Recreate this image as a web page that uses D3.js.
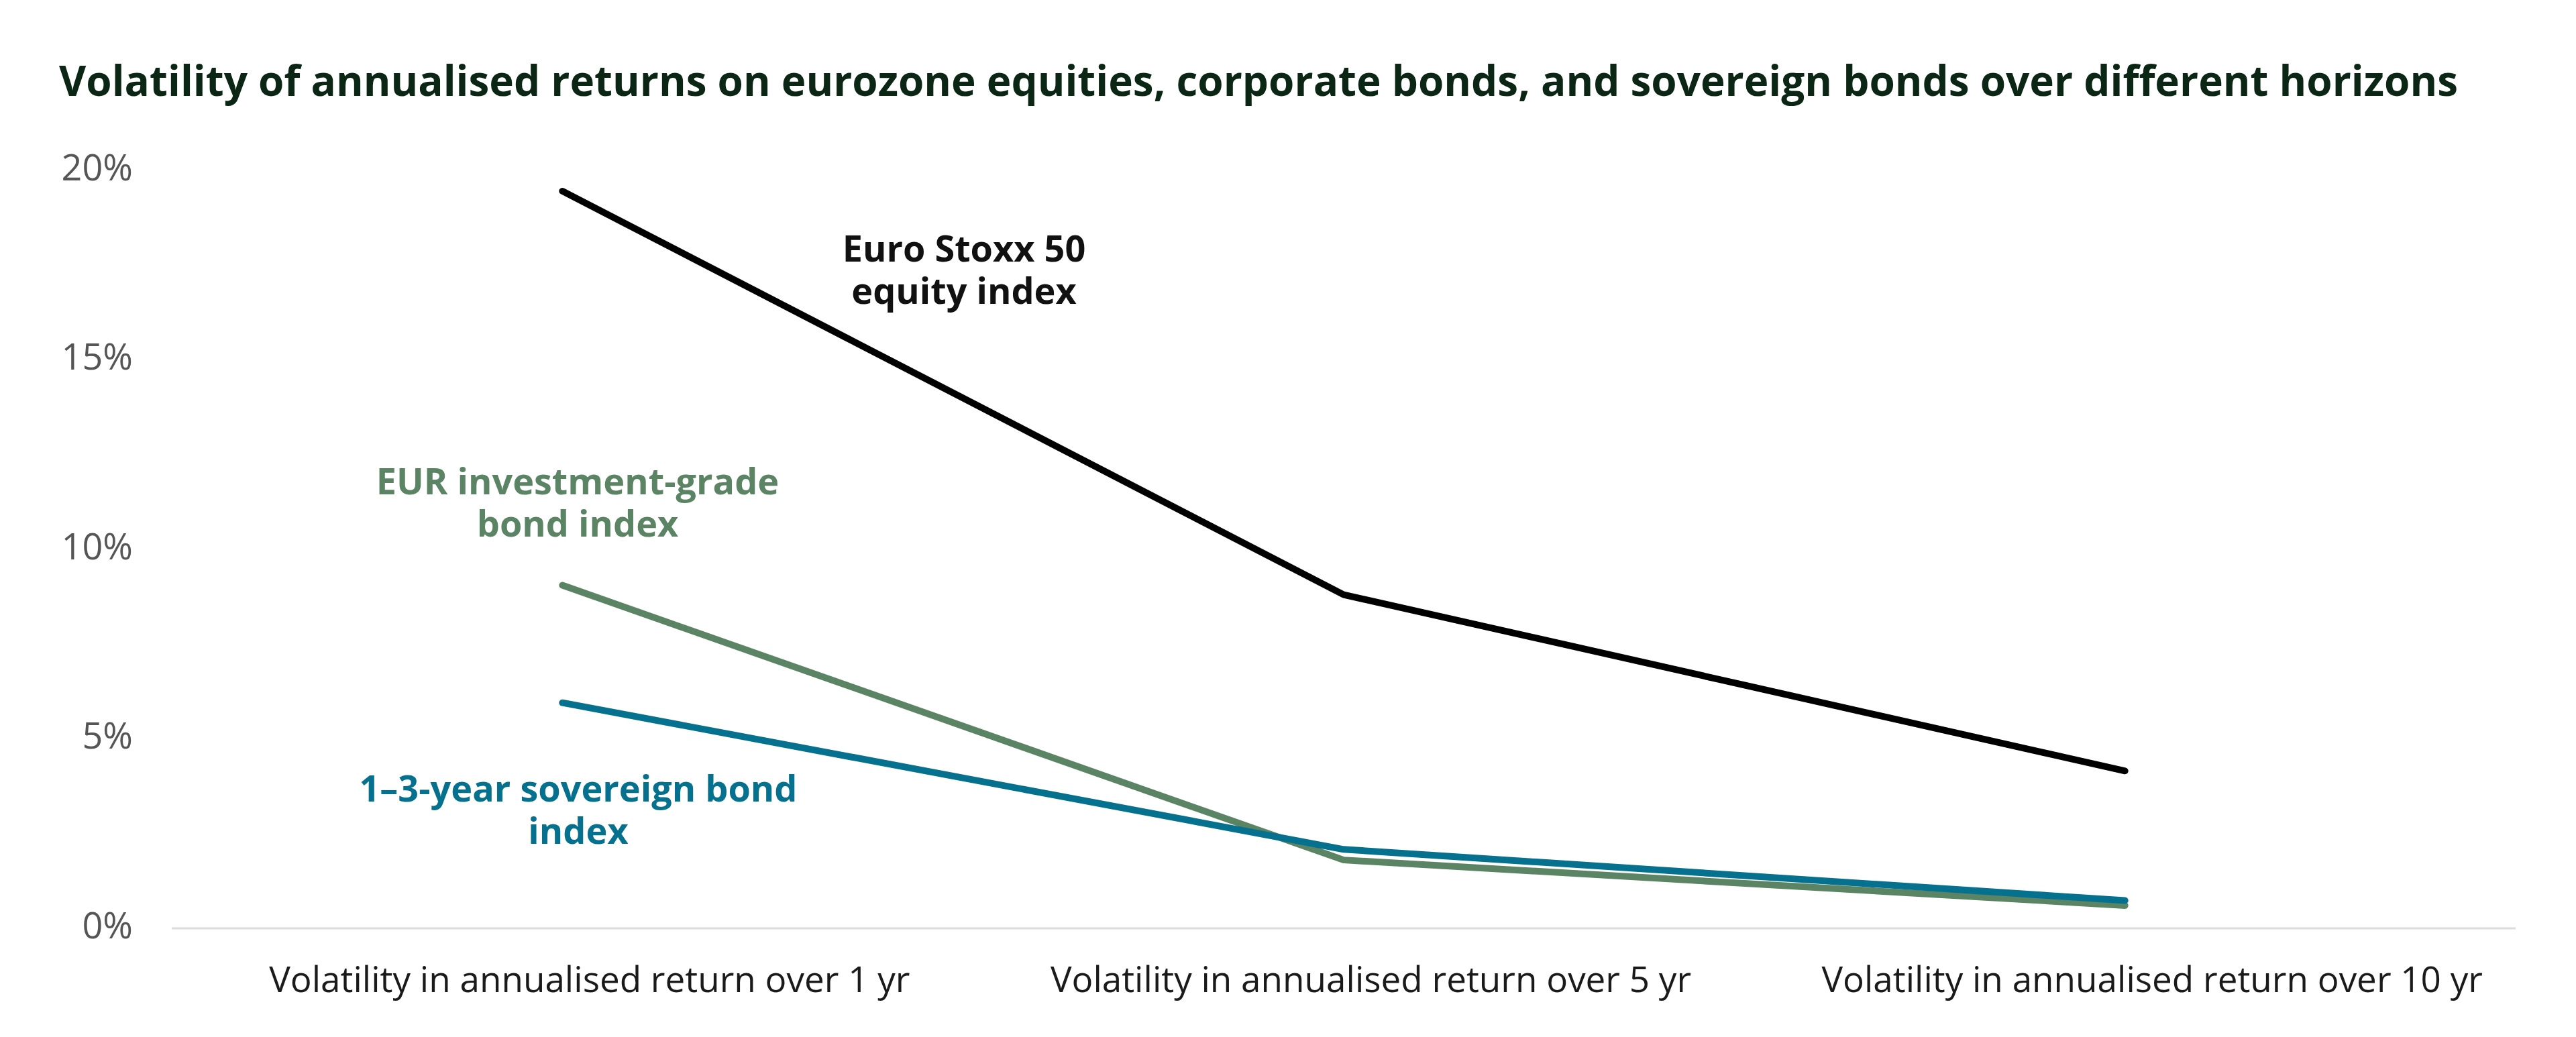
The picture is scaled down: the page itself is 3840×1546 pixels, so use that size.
<!DOCTYPE html>
<html>
<head>
<meta charset="utf-8">
<script src="https://cdn.jsdelivr.net/npm/d3@7"></script>
<style>
  body { margin: 0; background: #fff; }
  svg { display: block; font-family: "Open Sans", sans-serif; }
  .title { font-weight: 700; fill: #0c2615; }
  .y-axis text { fill: #555; }
  .x-axis text { fill: #1a1a1a; }
  .series-label { font-weight: 700; }
</style>
</head>
<body>
<svg id="chart"></svg>
<script>
// horizons on the x axis
const horizons = [
    "Volatility in annualised return over 1 yr",
    "Volatility in annualised return over 5 yr",
    "Volatility in annualised return over 10 yr"
];

// volatility (%) per horizon
const euroStoxx = [19.4, 8.75, 4.1];
const investmentGrade = [9.0, 1.75, 0.55];
const sovereign = [5.9, 2.03, 0.68];

const yTicks = [0, 5, 10, 15, 20];

const seriesNames = ["Euro Stoxx 50 equity index", "EUR investment-grade bond index", "1–3-year sovereign bond index"];
const seriesValues = [euroStoxx, investmentGrade, sovereign];
const seriesColors = ["#000000", "#5b8464", "#05718e"];

const titleText = "Volatility of annualised returns on eurozone equities, corporate bonds, and sovereign bonds over different horizons";

const config = {
    width: 3840,
    height: 1546,
    margin: { top: 251, right: 90, bottom: 165, left: 256 },
    fontSize: 53,
    lineWidth: 10
};

// where the inline series labels sit (pixel centre, first baseline)
const labelSpots = [
    { x: 1437, y: 390, lines: ["Euro Stoxx 50", "equity index"] },
    { x: 861, y: 737, lines: ["EUR investment-grade", "bond index"] },
    { x: 862, y: 1195, lines: ["1–3-year sovereign bond", "index"] }
];

const svg = d3.select('#chart')
    .attr('width', config.width)
    .attr('height', config.height);

const innerWidth = config.width - config.margin.left - config.margin.right;
const innerHeight = config.height - config.margin.top - config.margin.bottom;

const chart = svg.append('g')
    .attr('transform', `translate(${config.margin.left}, ${config.margin.top})`);

const xScale = d3.scalePoint()
    .domain(horizons)
    .range([0, innerWidth])
    .padding(0.5);

const yScale = d3.scaleLinear()
    .domain([0, 20])
    .range([innerHeight, 0]);

// title
svg.append('text')
    .attr('class', 'title')
    .attr('x', 88)
    .attr('y', 143)
    .style('font-size', '62px')
    .text(titleText);

// y axis: labels only
const yAxis = d3.axisLeft(yScale)
    .tickValues(yTicks)
    .tickSize(0)
    .tickPadding(58)
    .tickFormat(d => d + '%');

chart.append('g')
    .attr('class', 'y-axis')
    .call(yAxis)
    .call(g => g.select('.domain').remove())
    .selectAll('text')
    .style('font-size', '54px')
    .style('font-family', '"Open Sans", sans-serif');

// zero line
chart.append('line')
    .attr('x1', 0)
    .attr('x2', innerWidth)
    .attr('y1', yScale(0) + 3)
    .attr('y2', yScale(0) + 3)
    .attr('stroke', '#dcdcdc')
    .attr('stroke-width', 3);

// x axis: labels only
const xAxis = d3.axisBottom(xScale)
    .tickSize(0)
    .tickPadding(60);

chart.append('g')
    .attr('class', 'x-axis')
    .attr('transform', `translate(0, ${innerHeight})`)
    .call(xAxis)
    .call(g => g.select('.domain').remove())
    .selectAll('text')
    .attr('dx', 40)
    .style('font-size', config.fontSize + 'px')
    .style('font-family', '"Open Sans", sans-serif');

// lines
const line = d3.line()
    .x((d, i) => xScale(horizons[i]))
    .y(d => yScale(d));

chart.selectAll('.series')
    .data(seriesValues)
    .join('path')
    .attr('class', 'series')
    .attr('d', d => line(d))
    .attr('fill', 'none')
    .attr('stroke', (d, i) => seriesColors[i])
    .attr('stroke-width', config.lineWidth)
    .attr('stroke-linejoin', 'round')
    .attr('stroke-linecap', 'round');

// inline labels
const labels = svg.selectAll('.series-label')
    .data(labelSpots)
    .join('text')
    .attr('class', 'series-label')
    .attr('text-anchor', 'middle')
    .style('font-size', '54px')
    .attr('fill', (d, i) => seriesColors[i] === '#000000' ? '#111' : seriesColors[i]);

labels.selectAll('tspan')
    .data(d => d.lines.map((t, j) => ({ t, j, x: d.x, y: d.y })))
    .join('tspan')
    .attr('x', d => d.x)
    .attr('y', d => d.y + d.j * 63)
    .text(d => d.t);
</script>
</body>
</html>
